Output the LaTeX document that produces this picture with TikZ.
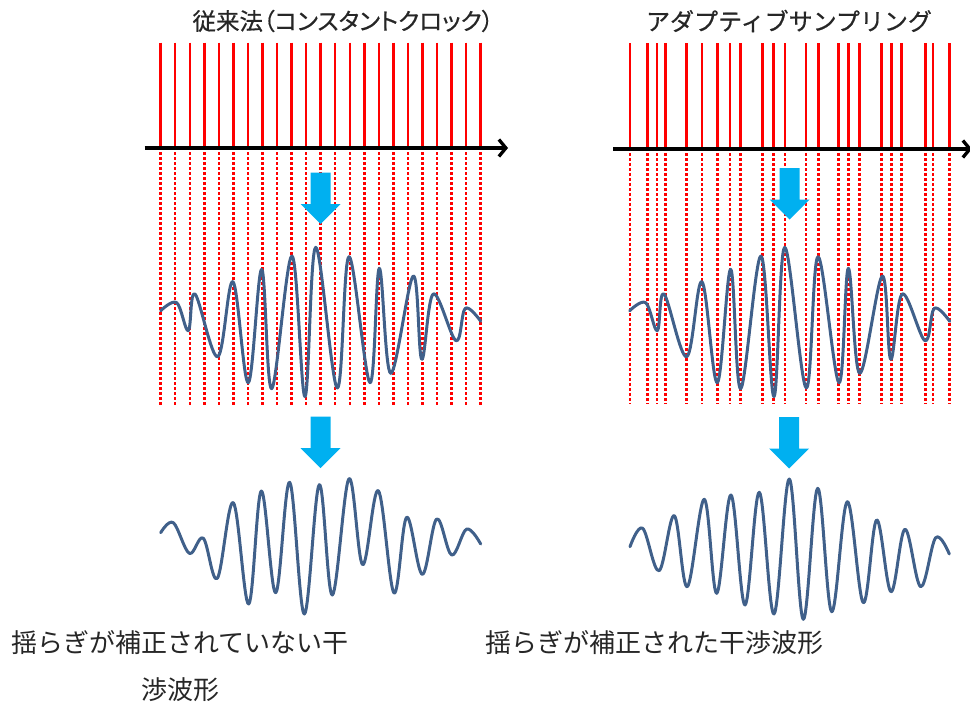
\documentclass[tikz,border=0pt]{standalone}
\usepackage{fontspec}
\usepackage{xcolor}
\usepackage{tikz}
\usetikzlibrary{arrows.meta}
\newfontfamily\jpfont{Noto Sans CJK JP}
\newfontfamily\jptitle[FakeBold=0.6]{Noto Sans CJK JP}
\newfontfamily\jpprop[RawFeature=+palt, FakeBold=0.6]{Noto Sans CJK JP}
\definecolor{clockred}{RGB}{255,0,0}
\definecolor{wavegray}{RGB}{64,96,138}
\definecolor{flowblue}{RGB}{0,176,240}

\begin{document}
\begin{tikzpicture}[x=1pt, y=-1pt,
  pulse/.style={draw=clockred, line width=2.5pt},
  sample/.style={draw=clockred, line width=2.5pt, dash pattern=on 2.5pt off 2.5pt},
  timeaxis/.style={draw=black, line width=3.3pt, -{Straight Barb[length=7pt,width=17pt]}},
  wave/.style={draw=wavegray, line width=3pt, line cap=round, line join=round},
  caption/.style={font=\jpfont\fontsize{26}{47}\selectfont, align=center, text=black!85},
  downarrow/.pic={\fill[flowblue] (-10,0) -- (10,0) -- (10,31.5) -- (20,31.5) -- (0,51.5) -- (-20,31.5) -- (-10,31.5) -- cycle;}]
\useasboundingbox (0,0) rectangle (970,704);

% Titles
\node[font=\jpprop\fontsize{23.5}{26}\selectfont, text=black!85] (titleL) at (343,21) {従来法（コンスタントクロック）};
\node[font=\jptitle\fontsize{24}{26}\selectfont, text=black!85] (titleR) at (789,21) {アダプティブサンプリング};

% Constant clock pulses
\foreach \i in {0,...,22}{
  \pgfmathsetmacro\x{160.7+14.545*\i}
  \draw[pulse] (\x,42.5) -- (\x,148);
  \draw[sample] (\x,152) -- (\x,406);
}
\draw[timeaxis] (144.5,148) -- (508,148);

% Adaptive sampling pulses
\foreach \x in {630,647.7,657,665.3,686.7,702,717.3,730,740.3,762.7,773.7,785,806,818.3,838.7,848.7,859.7,881.7,891.3,901.3,925.3,933,949.3}{
  \draw[pulse] (\x,43) -- (\x,149);
  \draw[sample] (\x,153) -- (\x,404);
}
\draw[timeaxis] (613,149) -- (972,149);

% Sampled interferograms
\foreach \s in {0,469}{
  \draw[wave, xshift=\s pt] plot[smooth, tension=0.6] coordinates {
    (160.7,310.7) (176.7,302.7) (188.3,330.7) (195,294) (217.7,356.7) (233,281.7)
    (248.3,382.7) (261.7,269.3) (271.7,388.7) (292,256) (305,396.7) (315.7,247.3)
    (337.3,388) (349,256.7) (370,382.7) (379.3,268.3) (390.7,373.3) (413.3,276)
    (421.7,359.3) (433.3,294) (456,340.7) (465.3,308.3) (480.7,321.3)};
}

% Resulting interferograms
\draw[wave] plot[smooth, tension=0.6] coordinates {
  (160.7,532.7) (173.3,522.7) (189.3,553.3) (203.3,538.3) (217.3,578.3) (233.3,502.7)
  (248.7,604) (261.3,491) (275.7,592.7) (289.7,482.3) (304.3,614) (319.3,484.7)
  (332.3,595) (349,478.7) (362.7,564.7) (378.3,490.7) (394,593) (406.7,517.3)
  (422.3,574.3) (436.7,519) (451.7,555) (466.7,529) (480.7,544)};
\draw[wave] plot[smooth, tension=0.6] coordinates {
  (630,546.7) (642.7,528.3) (659,570.7) (674.3,515.7) (687.3,586.7) (704.3,499.3)
  (716.7,593.3) (731,495) (745,605) (759.3,492.3) (774,614) (789.3,479)
  (803.3,619.3) (817.7,488.3) (831.7,611.7) (847.3,501.7) (863.3,602.7) (876.7,520)
  (891,591.7) (905,529.3) (920.7,586.7) (935.7,537.7) (949.3,554)};

% Flow arrows
\pic at (320.5,172.5) {downarrow};
\pic at (320.5,416.5) {downarrow};
\pic at (789.5,168) {downarrow};
\pic at (789,417) {downarrow};

% Captions
\node[caption] (capL) at (180,666.5) {揺らぎが補正されていない干\\渉波形};
\node[caption] (capR) at (654,643) {揺らぎが補正された干渉波形};
\end{tikzpicture}
\end{document}
